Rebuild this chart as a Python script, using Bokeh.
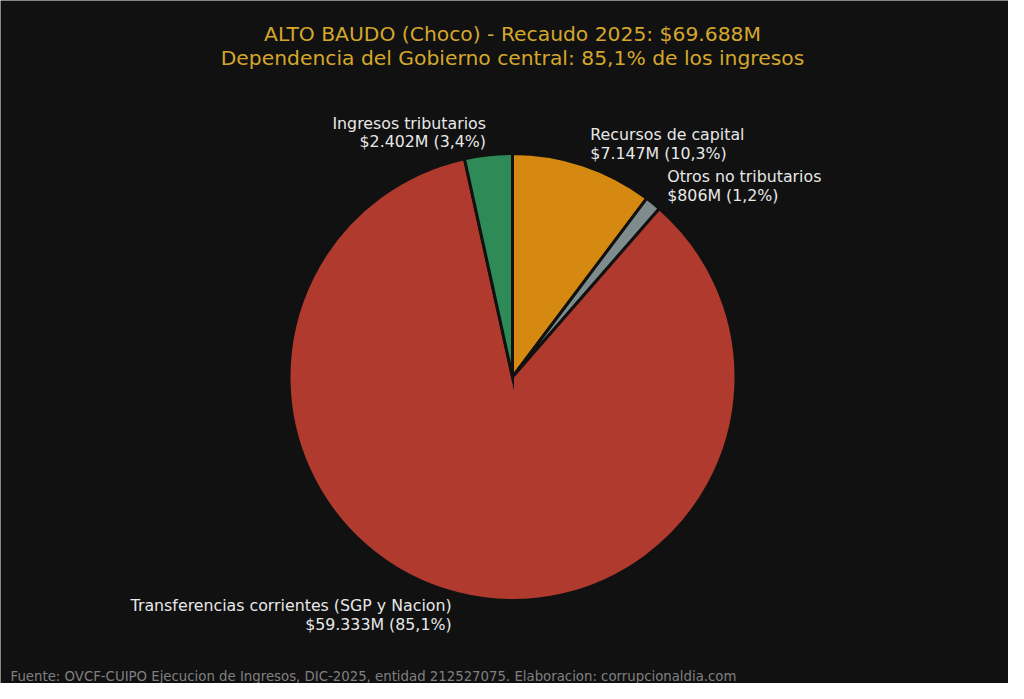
import math
from bokeh.plotting import figure
from bokeh.models import Range1d, ColumnDataSource
from bokeh.core.properties import value
from bokeh.embed import file_html
from bokeh.resources import INLINE

# ---- data ----
categories = ["Recursos de capital", "Otros no tributarios",
              "Transferencias corrientes (SGP y Nacion)", "Ingresos tributarios"]
amounts = [7147, 806, 59333, 2402]          # millones de pesos
amount_labels = ["$7.147M", "$806M", "$59.333M", "$2.402M"]
pct_labels = ["10,3%", "1,2%", "85,1%", "3,4%"]
colors = ["#D68910", "#7F8C8D", "#B03A2E", "#2E8B57"]
title_lines = ["ALTO BAUDO (Choco) - Recaudo 2025: $69.688M",
               "Dependencia del Gobierno central: 85,1% de los ingresos"]
footer = "Fuente: OVCF-CUIPO Ejecucion de Ingresos, DIC-2025, entidad 212527075. Elaboracion: corrupcionaldia.com"

W, H = 1008, 683
BG = "#111111"
FONT = value("DejaVu Sans")

def px(x):
    return x

def py(y):
    return H - y

p = figure(width=W, height=H, output_backend="svg", toolbar_location=None,
           x_range=Range1d(0, W), y_range=Range1d(0, H), min_border=0,
           background_fill_color=BG, border_fill_color=BG)
p.axis.visible = False
p.grid.visible = False
p.outline_line_color = None

cx, cy, r = px(512), py(376.5), 223.5
total = sum(amounts)
starts, ends = [], []
cum = 0.0
for a in amounts:
    starts.append(math.pi / 2 - 2 * math.pi * cum / total)
    cum += a
    ends.append(math.pi / 2 - 2 * math.pi * cum / total)

src = ColumnDataSource(dict(start=starts, end=ends, color=colors))
p.wedge(x=cx, y=cy, radius=r, start_angle="start", end_angle="end",
        direction="clock", fill_color="color", line_color=BG, line_width=3,
        line_join="miter", source=src)

# labels at 1.1 radius (matplotlib style)
for i, cat in enumerate(categories):
    mid = (starts[i] + ends[i]) / 2
    lx = cx + 1.1 * r * math.cos(mid)
    ly = cy + 1.1 * r * math.sin(mid)
    align = "left" if math.cos(mid) >= 0 else "right"
    p.text(x=[lx, lx], y=[ly + 9.4, ly - 9.4],
           text=[cat, f"{amount_labels[i]} ({pct_labels[i]})"],
           text_align=align, text_baseline="middle",
           text_color="#E8E8E8", text_font_size="15.8px", text_font=FONT)

# title
p.text(x=[px(512), px(512)], y=[py(33), py(57)], text=title_lines,
       text_align="center", text_baseline="middle", text_color="#D4A72C",
       text_font_size="20.3px", text_font=FONT)

# footer
p.text(x=[px(10)], y=[py(676)], text=[footer], text_align="left",
       text_baseline="middle", text_color="#808080", text_font_size="13.3px",
       text_font=FONT)

open("out.html", "w").write(file_html(p, INLINE))
